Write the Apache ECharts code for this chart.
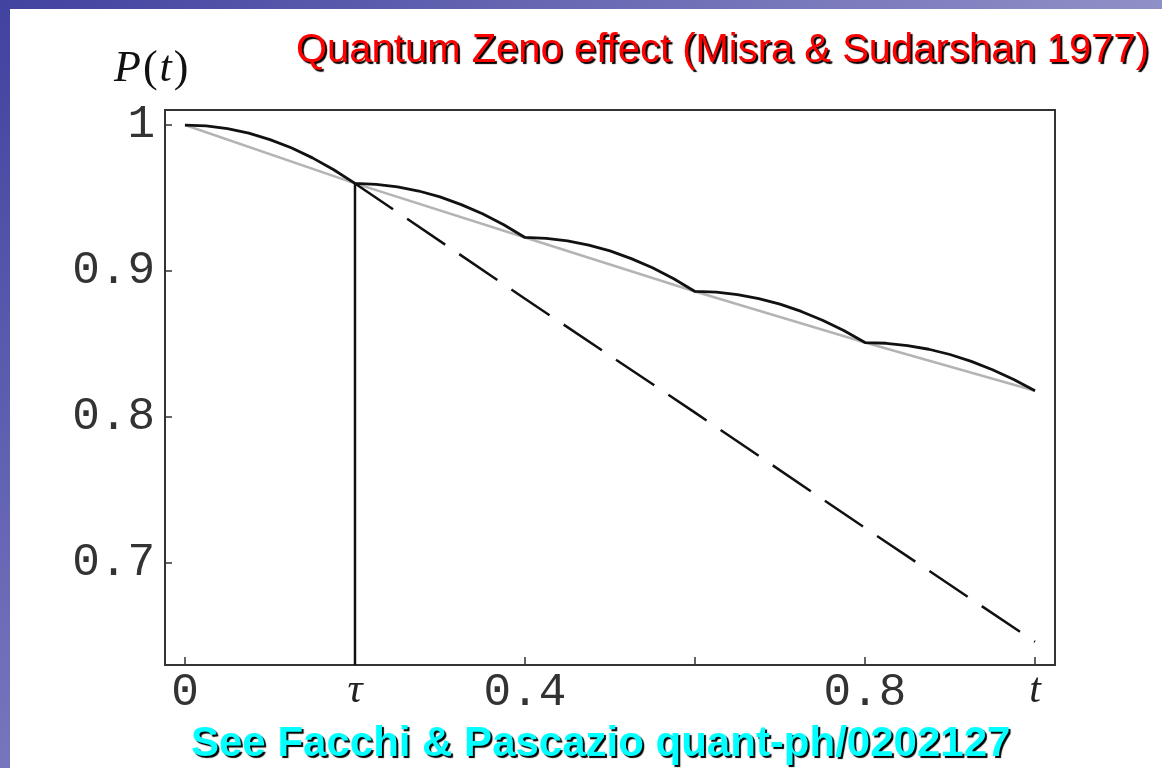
<!DOCTYPE html>
<html>
<head>
<meta charset="utf-8">
<script src="https://cdn.jsdelivr.net/npm/echarts@6/dist/echarts.min.js"></script>
<style>
html,body{margin:0;padding:0;background:#fff;}
#c{width:1162px;height:768px;}
</style>
</head>
<body>
<div id="c"></div>
<script>
// ---- data ----
var titleText = 'Quantum Zeno effect (Misra & Sudarshan 1977)';
var footText = 'See Facchi & Pascazio quant-ph/0202127';
var xTickValues = [0, 0.2, 0.4, 0.6, 0.8, 1.0];
var xTickLabels = ['0', 'τ', '0.4', '', '0.8', 't'];
var yTickValues = [0.7, 0.8, 0.9, 1.0];
var yTickLabels = ['0.7', '0.8', '0.9', '1'];

// Zeno evolution with measurements every tau (solid black)
var zenoT = [0, 0.025, 0.05, 0.075, 0.1, 0.125, 0.15, 0.175, 0.2,
  0.225, 0.25, 0.275, 0.3, 0.325, 0.35, 0.375, 0.4,
  0.425, 0.45, 0.475, 0.5, 0.525, 0.55, 0.575, 0.6,
  0.625, 0.65, 0.675, 0.7, 0.725, 0.75, 0.775, 0.8,
  0.825, 0.85, 0.875, 0.9, 0.925, 0.95, 0.975, 1.0];
var zenoP = [1.0, 0.9994, 0.9975, 0.9944, 0.990, 0.9844, 0.9775, 0.9694, 0.960,
  0.9594, 0.9577, 0.9548, 0.9508, 0.9455, 0.9392, 0.9317, 0.923,
  0.9224, 0.9207, 0.9178, 0.9138, 0.9085, 0.9022, 0.8947, 0.886,
  0.8855, 0.8838, 0.8811, 0.8773, 0.8723, 0.8663, 0.8592, 0.851,
  0.8505, 0.8489, 0.8464, 0.8428, 0.8381, 0.8324, 0.8257, 0.818];

// effective exponential (grey)
var expT = [0, 0.2, 0.4, 0.6, 0.8, 1.0];
var expP = [1.0, 0.960, 0.923, 0.886, 0.851, 0.818];

// free evolution without measurement (dashed)
var freeT = [0.2, 0.4, 0.6, 0.8, 1.0];
var freeP = [0.960, 0.881, 0.803, 0.724, 0.646];

// measurement marker at tau
var tauT = 0.2;
var tauP = 0.960;

// ---- chart ----
var xMin = -0.0235, xMax = 1.0235;
var yMin = 0.6301, yMax = 1.0103;

function pairs(a, b) { return a.map(function (v, i) { return [v, b[i]]; }); }

var monoFont = '"Liberation Mono", "DejaVu Sans Mono", monospace';
var serifFont = '"Liberation Serif", "DejaVu Serif", serif';

var chart = echarts.init(document.getElementById('c'), null, {renderer: 'canvas'});
chart.setOption({
  animation: false,
  backgroundColor: '#ffffff',
  graphic: [
    {type: 'rect', shape: {x: 0, y: 0, width: 10, height: 768}, z: 0, silent: true,
     style: {fill: new echarts.graphic.LinearGradient(0, 0, 0, 1, [{offset: 0, color: '#4242a0'}, {offset: 1, color: '#7676be'}])}},
    {type: 'rect', shape: {x: 0, y: 0, width: 1162, height: 9}, z: 0, silent: true,
     style: {fill: new echarts.graphic.LinearGradient(0, 0, 1, 0, [{offset: 0, color: '#4242a0'}, {offset: 1, color: '#9090c8'}])}},
    {type: 'text', left: 296, top: 31, z: 10, silent: true,
     style: {text: titleText, fill: '#ff0000', font: '40px "Liberation Sans", Arial, sans-serif',
       textShadowColor: '#000', textShadowOffsetX: 2, textShadowOffsetY: 2, textShadowBlur: 1}},
    {type: 'text', left: 191, top: 723, z: 10, silent: true,
     style: {text: footText, fill: '#00ffff', font: 'bold 42px "Liberation Sans", Arial, sans-serif',
       textShadowColor: '#000', textShadowOffsetX: 2, textShadowOffsetY: 2, textShadowBlur: 1}},
    {type: 'text', left: 114, top: 47, z: 10, silent: true,
     style: {rich: {i: {fontFamily: serifFont, fontStyle: 'italic', fontSize: 44, fill: '#111'},
                    r: {fontFamily: serifFont, fontSize: 44, fill: '#111', padding: [0, 2, 0, 2]}},
             text: '{i|P}{r|(}{i|t}{r|)}'}}
  ],
  grid: {left: 165, right: 107, top: 110, bottom: 103, show: true, borderColor: '#333', borderWidth: 2, backgroundColor: 'transparent'},
  xAxis: {
    type: 'value', min: xMin, max: xMax,
    axisLine: {show: false, onZero: false},
    splitLine: {show: false},
    axisTick: {show: true, inside: true, length: 8, customValues: xTickValues, lineStyle: {color: '#333', width: 1.5}},
    axisLabel: {
      customValues: xTickValues, margin: 5,
      formatter: function (v) {
        var i = Math.round(v * 5);
        var s = xTickLabels[i];
        if (s === 'τ' || s === 't') return '{i|' + s + '}';
        return s;
      },
      fontFamily: monoFont, fontSize: 46, color: '#333',
      rich: {i: {fontFamily: serifFont, fontStyle: 'italic', fontSize: 42, color: '#222'}}
    }
  },
  yAxis: {
    type: 'value', min: yMin, max: yMax,
    axisLine: {show: false, onZero: false},
    splitLine: {show: false},
    axisTick: {show: true, inside: true, length: 7, customValues: yTickValues, lineStyle: {color: '#333', width: 1.5}},
    axisLabel: {
      customValues: yTickValues, margin: 10,
      formatter: function (v) {
        var i = Math.round(v * 10) - 7;
        return yTickLabels[i];
      },
      fontFamily: monoFont, fontSize: 46, color: '#333'
    }
  },
  series: [
    {type: 'line', data: pairs(expT, expP), symbol: 'none', z: 2,
     lineStyle: {color: '#b4b4b4', width: 2.5}},
    {type: 'line', data: [[tauT, tauP], [tauT, yMin]], symbol: 'none', z: 3,
     lineStyle: {color: '#111', width: 2.5}},
    {type: 'line', data: pairs(freeT, freeP), symbol: 'none', z: 3,
     lineStyle: {color: '#111', width: 2.5, type: [46, 17]}},
    {type: 'line', data: pairs(zenoT, zenoP), symbol: 'none', z: 4,
     lineStyle: {color: '#111', width: 2.8}}
  ]
});
</script>
</body>
</html>
